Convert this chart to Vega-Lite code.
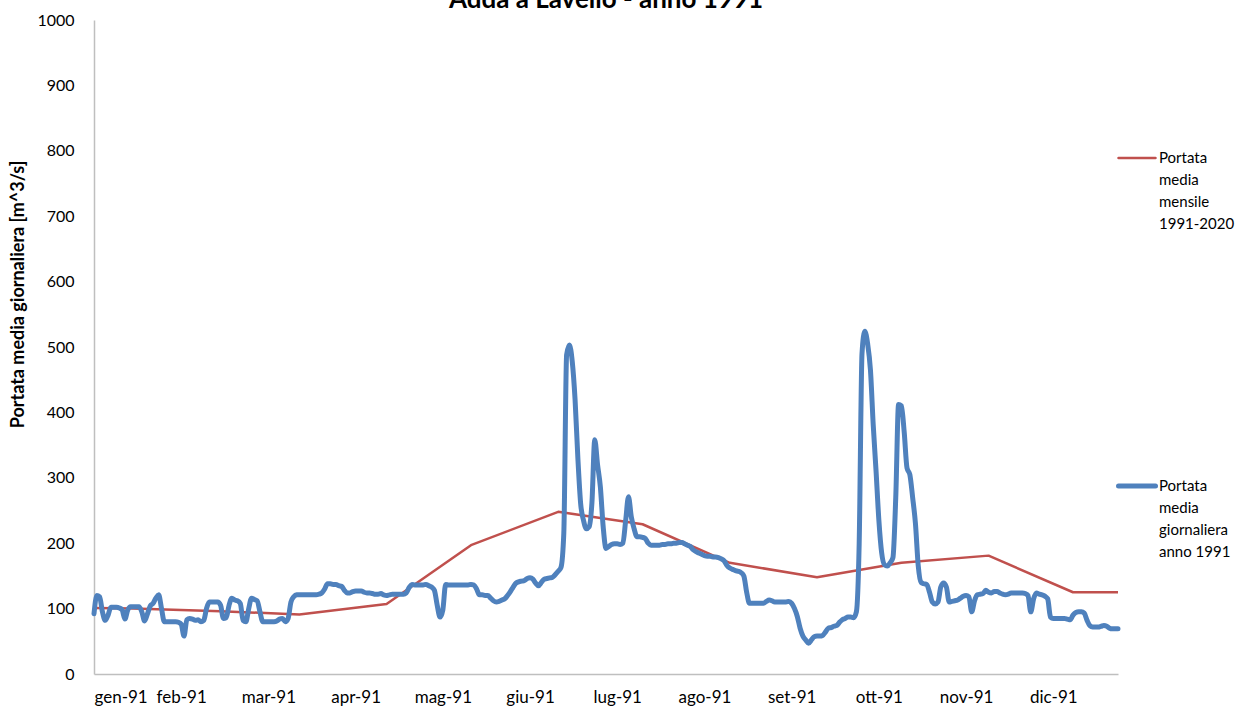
{
  "$schema": "https://vega.github.io/schema/vega-lite/v6.json",
  "width": 1024,
  "height": 654,
  "autosize": {"type": "none"},
  "padding": {"left": 94, "top": 20, "right": 121, "bottom": 37},
  "background": "white",
  "title": {"text": "Adda a Lavello - anno 1991", "font": "Lato", "fontSize": 26, "fontWeight": "bold", "color": "#000000", "anchor": "middle", "offset": -1},
  "config": {
    "view": {"stroke": null},
    "axis": {"grid": false, "ticks": false, "domainColor": "#BFBFBF", "domainWidth": 1.5, "labelFont": "Lato", "labelFontSize": 16, "labelColor": "#000000", "titleFont": "Lato", "titleColor": "#000000"},
    "legend": {"labelFont": "Lato", "labelFontSize": 15, "labelColor": "#000000"}
  },
  "datasets": {
    "mensile": [
      {"giorno": "1991-01-01", "portata": 101},
      {"giorno": "1991-01-15", "portata": 100},
      {"giorno": "1991-02-15", "portata": 96},
      {"giorno": "1991-03-15", "portata": 91},
      {"giorno": "1991-04-15", "portata": 107},
      {"giorno": "1991-05-15", "portata": 197},
      {"giorno": "1991-06-15", "portata": 248},
      {"giorno": "1991-07-15", "portata": 229},
      {"giorno": "1991-08-15", "portata": 170},
      {"giorno": "1991-09-15", "portata": 148},
      {"giorno": "1991-10-15", "portata": 170},
      {"giorno": "1991-11-15", "portata": 181},
      {"giorno": "1991-12-15", "portata": 125},
      {"giorno": "1991-12-31", "portata": 125}
    ],
    "giornaliera": [
      {"giorno":"1991-01-01","portata":92},{"giorno":"1991-01-02","portata":120},{"giorno":"1991-01-03","portata":118},{"giorno":"1991-01-04","portata":95},{"giorno":"1991-01-05","portata":82},{"giorno":"1991-01-06","portata":90},{"giorno":"1991-01-07","portata":102},{"giorno":"1991-01-08","portata":102},{"giorno":"1991-01-09","portata":102},{"giorno":"1991-01-10","portata":101},
      {"giorno":"1991-01-11","portata":98},{"giorno":"1991-01-12","portata":84},{"giorno":"1991-01-13","portata":98},{"giorno":"1991-01-14","portata":103},{"giorno":"1991-01-15","portata":103},{"giorno":"1991-01-16","portata":103},{"giorno":"1991-01-17","portata":103},{"giorno":"1991-01-18","portata":95},{"giorno":"1991-01-19","portata":81},{"giorno":"1991-01-20","portata":92},
      {"giorno":"1991-01-21","portata":104},{"giorno":"1991-01-22","portata":108},{"giorno":"1991-01-23","portata":116},{"giorno":"1991-01-24","portata":121},{"giorno":"1991-01-25","portata":100},{"giorno":"1991-01-26","portata":80},{"giorno":"1991-01-27","portata":80},{"giorno":"1991-01-28","portata":80},{"giorno":"1991-01-29","portata":80},{"giorno":"1991-01-30","portata":80},{"giorno":"1991-01-31","portata":79},
      {"giorno":"1991-02-01","portata":76},{"giorno":"1991-02-02","portata":58},{"giorno":"1991-02-03","portata":83},{"giorno":"1991-02-04","portata":85},{"giorno":"1991-02-05","portata":84},{"giorno":"1991-02-06","portata":82},{"giorno":"1991-02-07","portata":83},{"giorno":"1991-02-08","portata":80},{"giorno":"1991-02-09","portata":82},{"giorno":"1991-02-10","portata":100},
      {"giorno":"1991-02-11","portata":110},{"giorno":"1991-02-12","portata":110},{"giorno":"1991-02-13","portata":110},{"giorno":"1991-02-14","portata":110},{"giorno":"1991-02-15","portata":105},{"giorno":"1991-02-16","portata":85},{"giorno":"1991-02-17","portata":86},{"giorno":"1991-02-18","portata":105},{"giorno":"1991-02-19","portata":116},{"giorno":"1991-02-20","portata":113},
      {"giorno":"1991-02-21","portata":112},{"giorno":"1991-02-22","portata":108},{"giorno":"1991-02-23","portata":82},{"giorno":"1991-02-24","portata":80},{"giorno":"1991-02-25","portata":100},{"giorno":"1991-02-26","portata":116},{"giorno":"1991-02-27","portata":114},{"giorno":"1991-02-28","portata":112},
      {"giorno":"1991-03-01","portata":95},{"giorno":"1991-03-02","portata":80},{"giorno":"1991-03-03","portata":80},{"giorno":"1991-03-04","portata":80},{"giorno":"1991-03-05","portata":80},{"giorno":"1991-03-06","portata":80},{"giorno":"1991-03-07","portata":81},{"giorno":"1991-03-08","portata":84},{"giorno":"1991-03-09","portata":85},{"giorno":"1991-03-10","portata":80},
      {"giorno":"1991-03-11","portata":85},{"giorno":"1991-03-12","portata":110},{"giorno":"1991-03-13","portata":118},{"giorno":"1991-03-14","portata":121},{"giorno":"1991-03-15","portata":121},{"giorno":"1991-03-16","portata":121},{"giorno":"1991-03-17","portata":121},{"giorno":"1991-03-18","portata":121},{"giorno":"1991-03-19","portata":121},{"giorno":"1991-03-20","portata":121},
      {"giorno":"1991-03-21","portata":121},{"giorno":"1991-03-22","portata":122},{"giorno":"1991-03-23","portata":124},{"giorno":"1991-03-24","portata":130},{"giorno":"1991-03-25","portata":138},{"giorno":"1991-03-26","portata":138},{"giorno":"1991-03-27","portata":137},{"giorno":"1991-03-28","portata":137},{"giorno":"1991-03-29","portata":135},{"giorno":"1991-03-30","portata":134},{"giorno":"1991-03-31","portata":128},
      {"giorno":"1991-04-01","portata":124},{"giorno":"1991-04-02","portata":124},{"giorno":"1991-04-03","portata":126},{"giorno":"1991-04-04","portata":127},{"giorno":"1991-04-05","portata":127},{"giorno":"1991-04-06","portata":127},{"giorno":"1991-04-07","portata":125},{"giorno":"1991-04-08","portata":124},{"giorno":"1991-04-09","portata":124},{"giorno":"1991-04-10","portata":123},
      {"giorno":"1991-04-11","portata":122},{"giorno":"1991-04-12","portata":122},{"giorno":"1991-04-13","portata":123},{"giorno":"1991-04-14","portata":121},{"giorno":"1991-04-15","portata":120},{"giorno":"1991-04-16","portata":121},{"giorno":"1991-04-17","portata":122},{"giorno":"1991-04-18","portata":122},{"giorno":"1991-04-19","portata":122},{"giorno":"1991-04-20","portata":122},
      {"giorno":"1991-04-21","portata":122},{"giorno":"1991-04-22","portata":124},{"giorno":"1991-04-23","portata":132},{"giorno":"1991-04-24","portata":137},{"giorno":"1991-04-25","portata":136},{"giorno":"1991-04-26","portata":136},{"giorno":"1991-04-27","portata":136},{"giorno":"1991-04-28","portata":136},{"giorno":"1991-04-29","portata":137},{"giorno":"1991-04-30","portata":135},
      {"giorno":"1991-05-01","portata":133},{"giorno":"1991-05-02","portata":128},{"giorno":"1991-05-03","portata":105},{"giorno":"1991-05-04","portata":87},{"giorno":"1991-05-05","portata":98},{"giorno":"1991-05-06","portata":137},{"giorno":"1991-05-07","portata":136},{"giorno":"1991-05-08","portata":136},{"giorno":"1991-05-09","portata":136},{"giorno":"1991-05-10","portata":136},
      {"giorno":"1991-05-11","portata":136},{"giorno":"1991-05-12","portata":136},{"giorno":"1991-05-13","portata":136},{"giorno":"1991-05-14","portata":136},{"giorno":"1991-05-15","portata":137},{"giorno":"1991-05-16","portata":136},{"giorno":"1991-05-17","portata":130},{"giorno":"1991-05-18","portata":121},{"giorno":"1991-05-19","portata":121},{"giorno":"1991-05-20","portata":120},
      {"giorno":"1991-05-21","portata":120},{"giorno":"1991-05-22","portata":116},{"giorno":"1991-05-23","portata":112},{"giorno":"1991-05-24","portata":110},{"giorno":"1991-05-25","portata":111},{"giorno":"1991-05-26","portata":113},{"giorno":"1991-05-27","portata":115},{"giorno":"1991-05-28","portata":120},{"giorno":"1991-05-29","portata":126},{"giorno":"1991-05-30","portata":133},{"giorno":"1991-05-31","portata":139},
      {"giorno":"1991-06-01","portata":141},{"giorno":"1991-06-02","portata":142},{"giorno":"1991-06-03","portata":143},{"giorno":"1991-06-04","portata":146},{"giorno":"1991-06-05","portata":147},{"giorno":"1991-06-06","portata":145},{"giorno":"1991-06-07","portata":139},{"giorno":"1991-06-08","portata":135},{"giorno":"1991-06-09","portata":140},{"giorno":"1991-06-10","portata":145},
      {"giorno":"1991-06-11","portata":146},{"giorno":"1991-06-12","portata":147},{"giorno":"1991-06-13","portata":148},{"giorno":"1991-06-14","portata":152},{"giorno":"1991-06-15","portata":157},{"giorno":"1991-06-16","portata":163},{"giorno":"1991-06-17","portata":215},{"giorno":"1991-06-18","portata":488},{"giorno":"1991-06-19","portata":503},{"giorno":"1991-06-20","portata":478},
      {"giorno":"1991-06-21","portata":420},{"giorno":"1991-06-22","portata":330},{"giorno":"1991-06-23","portata":260},{"giorno":"1991-06-24","portata":235},{"giorno":"1991-06-25","portata":222},{"giorno":"1991-06-26","portata":225},{"giorno":"1991-06-27","portata":262},{"giorno":"1991-06-28","portata":358},{"giorno":"1991-06-29","portata":320},{"giorno":"1991-06-30","portata":286},
      {"giorno":"1991-07-01","portata":225},{"giorno":"1991-07-02","portata":192},{"giorno":"1991-07-03","portata":195},{"giorno":"1991-07-04","portata":198},{"giorno":"1991-07-05","portata":199},{"giorno":"1991-07-06","portata":199},{"giorno":"1991-07-07","portata":198},{"giorno":"1991-07-08","portata":200},{"giorno":"1991-07-09","portata":235},{"giorno":"1991-07-10","portata":271},
      {"giorno":"1991-07-11","portata":240},{"giorno":"1991-07-12","portata":222},{"giorno":"1991-07-13","portata":210},{"giorno":"1991-07-14","portata":210},{"giorno":"1991-07-15","portata":209},{"giorno":"1991-07-16","portata":207},{"giorno":"1991-07-17","portata":200},{"giorno":"1991-07-18","portata":197},{"giorno":"1991-07-19","portata":197},{"giorno":"1991-07-20","portata":197},
      {"giorno":"1991-07-21","portata":197},{"giorno":"1991-07-22","portata":198},{"giorno":"1991-07-23","portata":198},{"giorno":"1991-07-24","portata":199},{"giorno":"1991-07-25","portata":199},{"giorno":"1991-07-26","portata":200},{"giorno":"1991-07-27","portata":200},{"giorno":"1991-07-28","portata":201},{"giorno":"1991-07-29","portata":201},{"giorno":"1991-07-30","portata":199},{"giorno":"1991-07-31","portata":197},
      {"giorno":"1991-08-01","portata":195},{"giorno":"1991-08-02","portata":190},{"giorno":"1991-08-03","portata":187},{"giorno":"1991-08-04","portata":185},{"giorno":"1991-08-05","portata":183},{"giorno":"1991-08-06","portata":181},{"giorno":"1991-08-07","portata":180},{"giorno":"1991-08-08","portata":180},{"giorno":"1991-08-09","portata":179},{"giorno":"1991-08-10","portata":179},
      {"giorno":"1991-08-11","portata":178},{"giorno":"1991-08-12","portata":176},{"giorno":"1991-08-13","portata":173},{"giorno":"1991-08-14","portata":166},{"giorno":"1991-08-15","portata":162},{"giorno":"1991-08-16","portata":160},{"giorno":"1991-08-17","portata":158},{"giorno":"1991-08-18","portata":157},{"giorno":"1991-08-19","portata":155},{"giorno":"1991-08-20","portata":150},
      {"giorno":"1991-08-21","portata":125},{"giorno":"1991-08-22","portata":108},{"giorno":"1991-08-23","portata":108},{"giorno":"1991-08-24","portata":108},{"giorno":"1991-08-25","portata":108},{"giorno":"1991-08-26","portata":108},{"giorno":"1991-08-27","portata":108},{"giorno":"1991-08-28","portata":111},{"giorno":"1991-08-29","portata":113},{"giorno":"1991-08-30","portata":112},{"giorno":"1991-08-31","portata":110},
      {"giorno":"1991-09-01","portata":110},{"giorno":"1991-09-02","portata":110},{"giorno":"1991-09-03","portata":110},{"giorno":"1991-09-04","portata":110},{"giorno":"1991-09-05","portata":111},{"giorno":"1991-09-06","portata":108},{"giorno":"1991-09-07","portata":100},{"giorno":"1991-09-08","portata":88},{"giorno":"1991-09-09","portata":70},{"giorno":"1991-09-10","portata":58},
      {"giorno":"1991-09-11","portata":52},{"giorno":"1991-09-12","portata":47},{"giorno":"1991-09-13","portata":52},{"giorno":"1991-09-14","portata":57},{"giorno":"1991-09-15","portata":58},{"giorno":"1991-09-16","portata":58},{"giorno":"1991-09-17","portata":59},{"giorno":"1991-09-18","portata":64},{"giorno":"1991-09-19","portata":70},{"giorno":"1991-09-20","portata":71},
      {"giorno":"1991-09-21","portata":73},{"giorno":"1991-09-22","portata":74},{"giorno":"1991-09-23","portata":79},{"giorno":"1991-09-24","portata":83},{"giorno":"1991-09-25","portata":85},{"giorno":"1991-09-26","portata":87},{"giorno":"1991-09-27","portata":87},{"giorno":"1991-09-28","portata":86},{"giorno":"1991-09-29","portata":95},{"giorno":"1991-09-30","portata":200},
      {"giorno":"1991-10-01","portata":490},{"giorno":"1991-10-02","portata":524},{"giorno":"1991-10-03","portata":505},{"giorno":"1991-10-04","portata":465},{"giorno":"1991-10-05","portata":380},{"giorno":"1991-10-06","portata":310},{"giorno":"1991-10-07","portata":235},{"giorno":"1991-10-08","portata":185},{"giorno":"1991-10-09","portata":167},{"giorno":"1991-10-10","portata":165},
      {"giorno":"1991-10-11","portata":170},{"giorno":"1991-10-12","portata":178},{"giorno":"1991-10-13","portata":270},{"giorno":"1991-10-14","portata":412},{"giorno":"1991-10-15","portata":410},{"giorno":"1991-10-16","portata":370},{"giorno":"1991-10-17","portata":315},{"giorno":"1991-10-18","portata":305},{"giorno":"1991-10-19","portata":270},{"giorno":"1991-10-20","portata":230},
      {"giorno":"1991-10-21","portata":165},{"giorno":"1991-10-22","portata":140},{"giorno":"1991-10-23","portata":138},{"giorno":"1991-10-24","portata":137},{"giorno":"1991-10-25","portata":125},{"giorno":"1991-10-26","portata":110},{"giorno":"1991-10-27","portata":107},{"giorno":"1991-10-28","portata":110},{"giorno":"1991-10-29","portata":133},{"giorno":"1991-10-30","portata":139},{"giorno":"1991-10-31","portata":133},
      {"giorno":"1991-11-01","portata":110},{"giorno":"1991-11-02","portata":111},{"giorno":"1991-11-03","portata":112},{"giorno":"1991-11-04","portata":113},{"giorno":"1991-11-05","portata":116},{"giorno":"1991-11-06","portata":119},{"giorno":"1991-11-07","portata":120},{"giorno":"1991-11-08","portata":118},{"giorno":"1991-11-09","portata":95},{"giorno":"1991-11-10","portata":112},
      {"giorno":"1991-11-11","portata":121},{"giorno":"1991-11-12","portata":122},{"giorno":"1991-11-13","portata":123},{"giorno":"1991-11-14","portata":128},{"giorno":"1991-11-15","portata":125},{"giorno":"1991-11-16","portata":124},{"giorno":"1991-11-17","portata":126},{"giorno":"1991-11-18","portata":126},{"giorno":"1991-11-19","portata":124},{"giorno":"1991-11-20","portata":122},
      {"giorno":"1991-11-21","portata":121},{"giorno":"1991-11-22","portata":122},{"giorno":"1991-11-23","portata":124},{"giorno":"1991-11-24","portata":124},{"giorno":"1991-11-25","portata":124},{"giorno":"1991-11-26","portata":124},{"giorno":"1991-11-27","portata":124},{"giorno":"1991-11-28","portata":123},{"giorno":"1991-11-29","portata":120},{"giorno":"1991-11-30","portata":95},
      {"giorno":"1991-12-01","portata":115},{"giorno":"1991-12-02","portata":124},{"giorno":"1991-12-03","portata":122},{"giorno":"1991-12-04","portata":121},{"giorno":"1991-12-05","portata":119},{"giorno":"1991-12-06","portata":115},{"giorno":"1991-12-07","portata":87},{"giorno":"1991-12-08","portata":85},{"giorno":"1991-12-09","portata":85},{"giorno":"1991-12-10","portata":85},
      {"giorno":"1991-12-11","portata":85},{"giorno":"1991-12-12","portata":85},{"giorno":"1991-12-13","portata":84},{"giorno":"1991-12-14","portata":83},{"giorno":"1991-12-15","portata":90},{"giorno":"1991-12-16","portata":94},{"giorno":"1991-12-17","portata":95},{"giorno":"1991-12-18","portata":95},{"giorno":"1991-12-19","portata":93},{"giorno":"1991-12-20","portata":82},
      {"giorno":"1991-12-21","portata":74},{"giorno":"1991-12-22","portata":72},{"giorno":"1991-12-23","portata":72},{"giorno":"1991-12-24","portata":72},{"giorno":"1991-12-25","portata":73},{"giorno":"1991-12-26","portata":74},{"giorno":"1991-12-27","portata":73},{"giorno":"1991-12-28","portata":70},{"giorno":"1991-12-29","portata":69},{"giorno":"1991-12-30","portata":69},{"giorno":"1991-12-31","portata":69}
    ]
  },
  "encoding": {
    "x": {
      "field": "giorno",
      "type": "temporal",
      "scale": {"type": "utc", "domain": [{"year": 1991, "month": 1, "date": 1, "utc": true}, {"year": 1991, "month": 12, "date": 31, "utc": true}]},
      "axis": {
        "title": null,
        "values": [
          {"year": 1991, "month": 1, "date": 1, "utc": true},
          {"year": 1991, "month": 2, "date": 1, "utc": true},
          {"year": 1991, "month": 3, "date": 4, "utc": true},
          {"year": 1991, "month": 4, "date": 4, "utc": true},
          {"year": 1991, "month": 5, "date": 5, "utc": true},
          {"year": 1991, "month": 6, "date": 5, "utc": true},
          {"year": 1991, "month": 7, "date": 6, "utc": true},
          {"year": 1991, "month": 8, "date": 6, "utc": true},
          {"year": 1991, "month": 9, "date": 6, "utc": true},
          {"year": 1991, "month": 10, "date": 7, "utc": true},
          {"year": 1991, "month": 11, "date": 7, "utc": true},
          {"year": 1991, "month": 12, "date": 8, "utc": true}
        ],
        "labelExpr": "['gen','feb','mar','apr','mag','giu','lug','ago','set','ott','nov','dic'][utcmonth(datum.value)] + '-91'",
        "labelFlush": true,
        "labelFontSize": 17,
        "labelBaseline": "top",
        "labelPadding": 15,
        "labelOverlap": false
      }
    },
    "y": {
      "field": "portata",
      "type": "quantitative",
      "scale": {"domain": [0, 1000], "nice": false},
      "axis": {
        "values": [0, 100, 200, 300, 400, 500, 600, 700, 800, 900, 1000],
        "format": "d",
        "labelPadding": 20,
        "title": "Portata media giornaliera [m^3/s]",
        "titleFontSize": 18,
        "titleFontWeight": "bold",
        "titleAngle": -90,
        "titleAlign": "center",
        "titleBaseline": "middle",
        "titleX": -76,
        "titleY": 274
      }
    },
    "color": {
      "field": "serie",
      "type": "nominal",
      "scale": {"domain": ["Portata media mensile 1991-2020", "Portata media giornaliera anno 1991"], "range": ["#C0504D", "#4F81BD"]},
      "legend": {
        "title": null,
        "orient": "none",
        "legendX": 1022,
        "legendY": 117,
        "padding": 0,
        "rowPadding": 233,
        "symbolType": "stroke",
        "symbolSize": 1369,
        "symbolStrokeWidth": 5,
        "labelOffset": 1,
        "labelBaseline": "alphabetic",
        "labelLimit": 200,
        "labelExpr": "datum.label == 'Portata media mensile 1991-2020' ? ['Portata', 'media', 'mensile', '1991-2020'] : ['Portata', 'media', 'giornaliera', 'anno 1991']",
        "encode": {
          "symbols": {"update": {"strokeWidth": {"signal": "(datum.value == 'Portata media mensile 1991-2020' ? 2.5 : 5)"}, "strokeCap": {"value": "round"}}},
          "labels": {"update": {"lineHeight": {"value": 22}, "dy": {"value": 5}}}
        }
      }
    }
  },
  "layer": [
    {
      "data": {"name": "mensile", "format": {"parse": {"giorno": "utc:'%Y-%m-%d'"}}},
      "transform": [{"calculate": "'Portata media mensile 1991-2020'", "as": "serie"}],
      "mark": {"type": "line", "strokeWidth": 2.5, "strokeJoin": "round"}
    },
    {
      "data": {"name": "giornaliera", "format": {"parse": {"giorno": "utc:'%Y-%m-%d'"}}},
      "transform": [{"calculate": "'Portata media giornaliera anno 1991'", "as": "serie"}],
      "mark": {"type": "line", "strokeWidth": 5, "interpolate": "monotone", "strokeJoin": "round", "strokeCap": "round"}
    }
  ]
}
